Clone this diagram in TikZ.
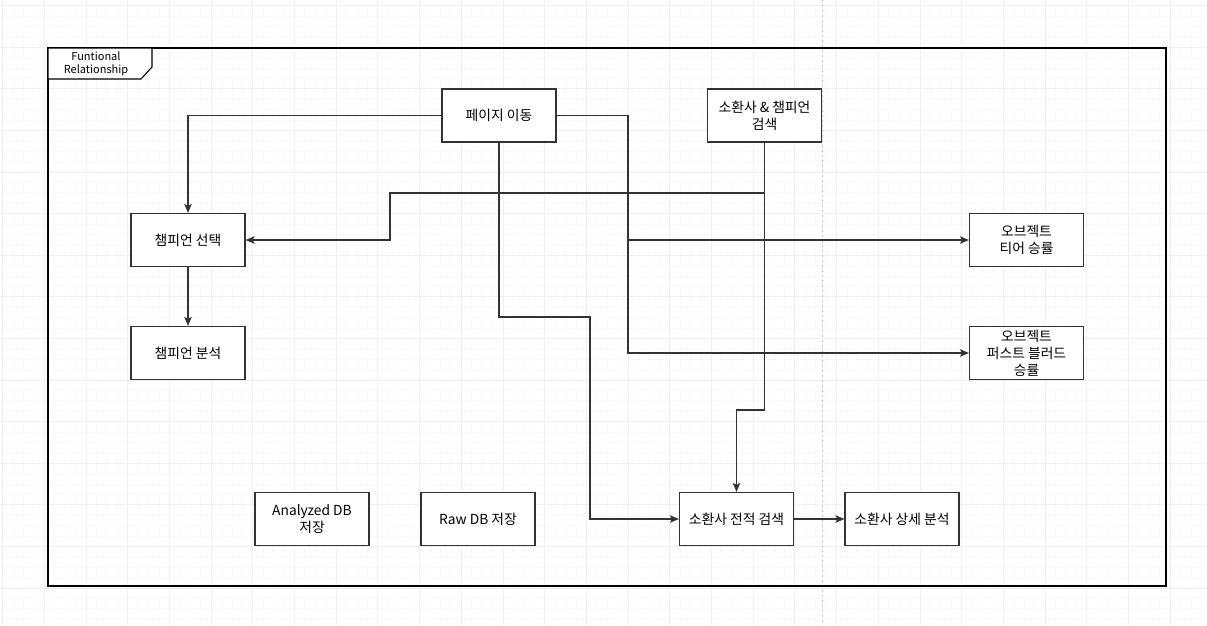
\documentclass[tikz,border=0pt]{standalone}
\usepackage{fontspec}
\setmainfont{Noto Sans CJK KR}
\usetikzlibrary{arrows.meta}
\definecolor{ln}{HTML}{333333}
\tikzset{
  box/.style={draw=ln, line width=1.2pt, fill=white, minimum width=114pt, minimum height=53pt,
    align=center, inner sep=2pt, font=\fontsize{13.8pt}{17pt}\selectfont},
  conn/.style={draw=ln, line width=1.2pt},
  arr/.style={conn, -{Stealth[length=9pt,width=7.5pt,inset=2pt]}},
  gridminor/.style={draw=gray!5, line width=0.5pt},
  gridmajor/.style={draw=gray!12, line width=0.6pt},
}
\begin{document}
\begin{tikzpicture}[x=1pt,y=-1pt]
\useasboundingbox (0,0) rectangle (1207,625);
\fill[white] (0,0) rectangle (1207,625);
% background grid
\foreach \i in {0,...,116} {\draw[gridminor] (2.4+10.425*\i,0) -- (2.4+10.425*\i,625);}
\foreach \i in {0,...,60} {\draw[gridminor] (0,5.4+10.4*\i) -- (1207,5.4+10.4*\i);}
\foreach \i in {0,...,28} {\draw[gridmajor] (2.4+41.7*\i,0) -- (2.4+41.7*\i,625);}
\foreach \i in {0,...,14} {\draw[gridmajor] (0,5.4+41.6*\i) -- (1207,5.4+41.6*\i);}
\draw[gray!45, line width=1pt, dash pattern=on 2pt off 3pt] (822,0) -- (822,625);
% frame
\draw[black, line width=1.4pt] (48,48) rectangle (1166,586);
\draw[black, line width=1.1pt, fill=white] (48,48) -- (152,48) -- (152,67) -- (141,79) -- (48,79) -- cycle;
\node[align=center, font=\fontsize{11pt}{13pt}\selectfont] (tab) at (96,63.5) {Funtional\\Relationship};
% nodes
\node[box] (pg) at (499,115.5) {페이지 이동};
\node[box] (ss) at (764.5,115.5) {소환사 \& 챔피언\\검색};
\node[box] (cs) at (188,240) {챔피언 선택};
\node[box] (ca) at (188,353) {챔피언 분석};
\node[box] (ob1) at (1026.5,240) {오브젝트\\티어 승률};
\node[box] (ob2) at (1026.5,353) {오브젝트\\퍼스트 블러드\\승률};
\node[box] (adb) at (312,519) {Analyzed DB\\저장};
\node[box] (rdb) at (478,519) {Raw DB 저장};
\node[box] (rec) at (736.5,519) {소환사 전적 검색};
\node[box] (det) at (902,519) {소환사 상세 분석};
% helper coordinates
\coordinate (r1) at (628,115.5);
\coordinate (b1) at (590,317);
\coordinate (s1) at (390,193);
\coordinate (s2) at (0,410);
% connectors
\draw[arr] (pg.west) -| (cs.north);
\draw[arr] (pg.east) -- (r1) |- (ob2.west);
\draw[arr] (r1 |- ob1.west) -- (ob1.west);
\draw[arr] (pg.south) |- (b1) |- (rec.west);
\draw[arr] (ss.south) |- (s1) |- (cs.east);
\draw[arr] (ss.south) |- (rec.north |- s2) -- (rec.north);
\draw[arr] (cs.south) -- (ca.north);
\draw[arr] (rec.east) -- (det.west);
\end{tikzpicture}
\end{document}
